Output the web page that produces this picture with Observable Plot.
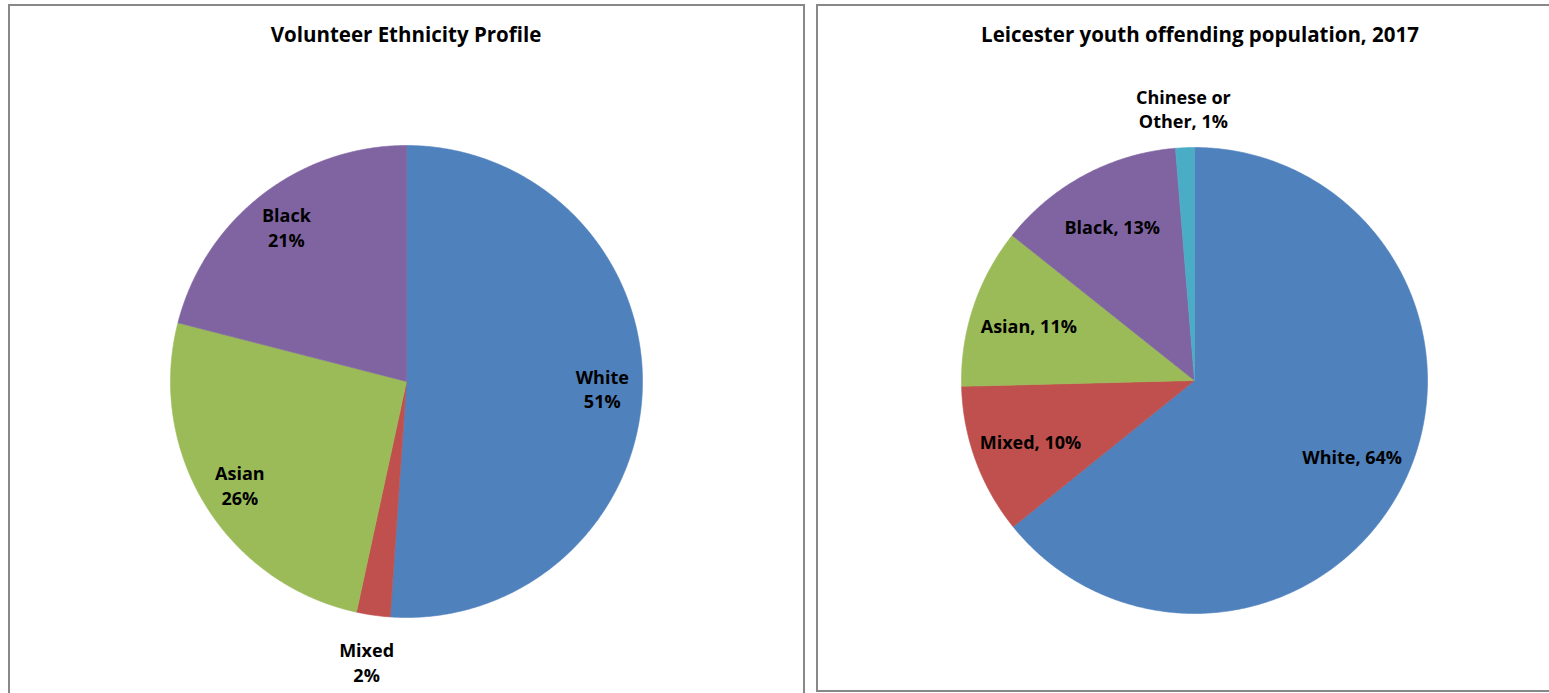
<!DOCTYPE html>
<html><head><meta charset="utf-8">
<script src="https://cdn.jsdelivr.net/npm/d3@7"></script>
<script src="https://cdn.jsdelivr.net/npm/@observablehq/plot@0.6"></script>
<style>
html,body{margin:0;padding:0;background:#fff;overflow:hidden;width:1549px;height:693px;font-family:"Open Sans",sans-serif}
.box{position:absolute;border:2px solid #888;box-sizing:border-box}
#boxL{left:8px;top:4px;width:797px;height:720px}
#boxR{left:816px;top:4px;width:800px;height:688px}
.title{position:absolute;font-weight:bold;font-size:20.5px;line-height:22px;color:#000;transform:translateX(-50%);white-space:nowrap;font-family:"Open Sans",sans-serif}
.chart{position:absolute}
</style></head><body>
<div class="box" id="boxL"></div>
<div class="box" id="boxR"></div>
<div class="chart" id="chartL" style="left:10px;top:6px"></div>
<div class="chart" id="chartR" style="left:818px;top:6px"></div>
<div class="title" style="left:406px;top:23px">Volunteer Ethnicity Profile</div>
<div class="title" style="left:1200px;top:23px">Leicester youth offending population, 2017</div>
<script>
// ---- data ----
const allCategories = ["White", "Mixed", "Asian", "Black", "Chinese or Other"];
const categoryColors = ["#4F81BD", "#C0504D", "#9BBB59", "#8064A2", "#4BACC6"];

const volunteerCategories = ["White", "Mixed", "Asian", "Black"];
const volunteerValues = [51.1, 2.3, 25.6, 21.0];
const volunteerLabels = ["White\n51%", "Mixed\n2%", "Asian\n26%", "Black\n21%"];

const offendingCategories = ["White", "Mixed", "Asian", "Black", "Chinese or Other"];
const offendingValues = [64.2, 10.4, 11.1, 13.0, 1.3];
const offendingLabels = ["White, 64%", "Mixed, 10%", "Asian, 11%", "Black, 13%", "Chinese or\nOther, 1%"];

function pieChart({cats, vals, labels, width, height, cx, cy, r, inside, outside}) {
  const total = d3.sum(vals);
  let acc = 0;
  const slices = cats.map((c, i) => {
    const a0 = acc / total * 2 * Math.PI;
    acc += vals[i];
    const a1 = acc / total * 2 * Math.PI;
    return {c, a0, a1, share: vals[i] / total, label: labels[i]};
  });
  const pts = [];
  for (const s of slices) {
    pts.push({c: s.c, x: 0, y: 0});
    const n = Math.max(2, Math.ceil((s.a1 - s.a0) / (Math.PI / 360)));
    for (let k = 0; k <= n; k++) {
      const a = s.a0 + (s.a1 - s.a0) * k / n;
      pts.push({c: s.c, x: Math.sin(a), y: Math.cos(a)});
    }
    pts.push({c: s.c, x: 0, y: 0});
  }
  const lbl = slices.map(s => {
    const m = (s.a0 + s.a1) / 2;
    const f = s.share < 0.05 ? outside : inside;
    return {label: s.label, x: f * Math.sin(m), y: f * Math.cos(m)};
  });
  return Plot.plot({
    width, height, margin: 0,
    x: {domain: [-cx / r, (width - cx) / r], axis: null},
    y: {domain: [-(height - cy) / r, cy / r], axis: null},
    color: {domain: allCategories, range: categoryColors},
    style: {background: "transparent", overflow: "visible", fontFamily: "'Open Sans', sans-serif"},
    marks: [
      Plot.line(pts, {x: "x", y: "y", z: "c", fill: "c", stroke: "c", strokeWidth: 0.6, curve: "linear"}),
      Plot.text(lbl, {x: "x", y: "y", text: "label", fontSize: 18, fontWeight: "bold", fill: "#000", lineHeight: 1.37, fontFamily: "'Open Sans', sans-serif"})
    ]
  });
}

document.getElementById("chartL").appendChild(pieChart({
  cats: volunteerCategories, vals: volunteerValues, labels: volunteerLabels,
  width: 793, height: 687, cx: 396, cy: 375, r: 236, inside: 0.83, outside: 1.2
}));
document.getElementById("chartR").appendChild(pieChart({
  cats: offendingCategories, vals: offendingValues, labels: offendingLabels,
  width: 731, height: 684, cx: 376, cy: 374, r: 233, inside: 0.75, outside: 1.17
}));
</script>
</body></html>
